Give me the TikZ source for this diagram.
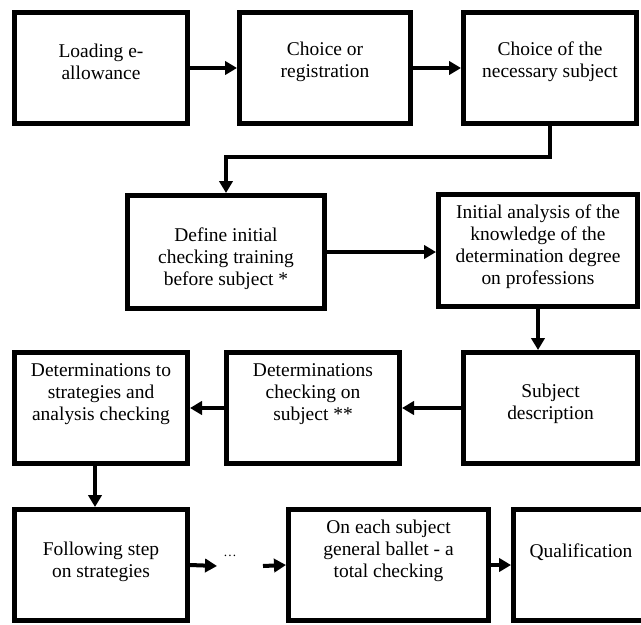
\documentclass[tikz,border=0pt]{standalone}
\usepackage{fontspec}
\setmainfont{Liberation Serif}
\usetikzlibrary{arrows.meta,calc}
\begin{document}
\begin{tikzpicture}[x=0.75pt,y=-0.75pt,
  box/.style={draw, line width=3.75pt, inner sep=0pt},
  txt/.style={align=center, inner sep=0pt, font=\fontsize{14.6}{16.5}\selectfont},
  conn/.style={line width=3pt, -{Triangle[length=9pt,width=10pt]}},
  thinconn/.style={line width=2.6pt, -{Triangle[length=9pt,width=10pt]}}]
\useasboundingbox (0,0) rectangle (641,624);
% boxes
\node[box, minimum width=173*.75pt, minimum height=111*.75pt] (b1) at (101,68) {};
\node[box, minimum width=171*.75pt, minimum height=111*.75pt] (b2) at (325,68) {};
\node[box, minimum width=173*.75pt, minimum height=111*.75pt] (b3) at (550,68) {};
\node[box, minimum width=197*.75pt, minimum height=113*.75pt] (b4) at (226,252) {};
\node[box, minimum width=199*.75pt, minimum height=112*.75pt] (b5) at (538,250.5) {};
\node[box, minimum width=174*.75pt, minimum height=111*.75pt] (b6) at (550.5,408) {};
\node[box, minimum width=173*.75pt, minimum height=111*.75pt] (b7) at (313,408) {};
\node[box, minimum width=173*.75pt, minimum height=111*.75pt] (b8) at (101,408) {};
\node[box, minimum width=173*.75pt, minimum height=111*.75pt] (b9) at (101,565) {};
\node[box, minimum width=200*.75pt, minimum height=111*.75pt] (b10) at (388.5,565) {};
\node[box, minimum width=139*.75pt, minimum height=111*.75pt] (b11) at (583,565) {};
% texts
\node[txt] (t1) at (101,62) {Loading e-\\allowance};
\node[txt] (t2) at (325,62) {Choice or\\registration};
\node[txt] (t3) at (550,62) {Choice of the\\necessary subject};
\node[txt] (t4) at (226,259) {Define initial\\checking training\\before subject *};
\node[txt] (t5) at (538,247) {Initial analysis of the\\knowledge of the\\determination degree\\on professions};
\node[txt] (t6) at (550.5,404) {Subject\\description};
\node[txt] (t7) at (313,394) {Determinations\\checking on\\subject **};
\node[txt] (t8) at (101,394) {Determinations to\\strategies and\\analysis checking};
\node[txt] (t9) at (101,562) {Following step\\on strategies};
\node[txt] (t10) at (388.5,551) {On each subject\\general ballet - a\\total checking};
\node[txt] (t11) at (581,552) {Qualification};
\node[inner sep=0pt, font=\fontsize{10}{12}\selectfont] (dots) at (230,556) {\ldots};
\coordinate (d1) at (217,566);
\coordinate (d2) at (263,566);
% connectors
\draw[conn] (b1.east) -- (b2.west);
\draw[conn] (b2.east) -- (b3.west);
\draw[conn] (b3.south) -- ++(0,31) -| (b4.north);
\draw[thinconn] (b4.east) -- (b4.east -| b5.west);
\draw[conn] (b5.south) -- (b5.south |- b6.north);
\draw[conn] (b6.west) -- (b7.east);
\draw[conn] (b7.west) -- (b8.east);
\draw[conn] ($(b8.south)+(-6,0)$) -- ($(b9.north)+(-6,0)$);
\draw[conn] (b9.east) -- (d1);
\draw[conn] (d2) -- (b10.west);
\draw[conn] (b10.east) -- (b11.west);
\end{tikzpicture}
\end{document}
